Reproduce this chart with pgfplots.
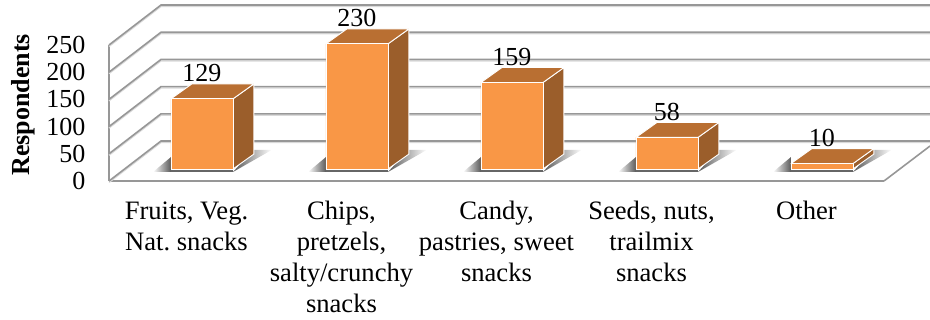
\documentclass[border=0pt]{standalone}
\usepackage{fontspec}
\setmainfont{Liberation Serif}
\usepackage{pgfplots}
\pgfplotsset{compat=1.18}
\definecolor{front}{HTML}{F99746}
\definecolor{topf}{HTML}{B96F32}
\definecolor{sidef}{HTML}{9B5E2B}
\definecolor{gridc}{HTML}{979797}
\begin{document}
\begin{tikzpicture}[x=1pt,y=1pt]
\useasboundingbox (0,0) rectangle (930,320);
\begin{axis}[
  at={(109pt,139pt)}, anchor=south west,
  scale only axis, width=775pt, height=136pt,
  xmin=-0.5, xmax=4.5, ymin=0, ymax=250,
  clip=false,
  axis x line*=bottom, axis y line*=left,
  axis line style={draw=gridc, line width=1.6pt, -},
  tick style={draw=none},
  xtick={0,1,2,3,4},
  xticklabels={{Fruits, Veg.\\Nat.\ snacks},{Chips,\\pretzels,\\salty/crunchy\\snacks},{Candy,\\pastries, sweet\\snacks},{Seeds, nuts,\\trailmix\\snacks},{Other}},
  x tick label style={font=\fontsize{26.6}{31}\selectfont, align=center, anchor=north, yshift=-17pt},
  ytick={0,50,100,150,200,250},
  y tick label style={font=\fontsize{26}{30}\selectfont, anchor=east, xshift=-20pt},
  /pgf/number format/assume math mode=true,
  ylabel={\bfseries Respondents},
  ylabel style={font=\fontsize{26}{30}\selectfont, at={(axis description cs:-0.111,0.56)}, anchor=center, rotate=0},
  bshift/.style={xshift=15.5pt, yshift=12pt, mark=none},
  shadowL/.style={bshift, draw=none, left color=white, right color=black!65},
  shadowR/.style={bshift, draw=none, left color=black!65, right color=white},
  strip/.style={bshift, draw=none, fill=black!60},
  topface/.style={bshift, draw=white, line width=0.9pt, fill=topf, line join=round},
  sideface/.style={bshift, draw=white, line width=0.9pt, fill=sidef, line join=round},
]
% walls and floor
\pgfplotsinvokeforeach{0,50,100,150,200,250}{
  \addplot[gray!30, line width=1.4pt, mark=none, forget plot, yshift=-1.4pt] coordinates {(-0.5,#1) (-0.1645,#1+73.5) (4.797,#1+73.5)};
  \addplot[gridc, line width=1.6pt, mark=none, forget plot] coordinates {(-0.5,#1) (-0.1645,#1+73.5) (4.797,#1+73.5)};
}
\addplot[gridc, line width=1.6pt, mark=none] coordinates {(4.5,0) (4.797,64.3)};
% shadows
\addplot[shadowL] coordinates {(-0.316,-5.5) (-0.2,-5.5) (-0.2,22)} --cycle;
\addplot[shadowL] coordinates {(0.684,-5.5) (0.8,-5.5) (0.8,22)} --cycle;
\addplot[shadowL] coordinates {(1.684,-5.5) (1.8,-5.5) (1.8,22)} --cycle;
\addplot[shadowL] coordinates {(2.684,-5.5) (2.8,-5.5) (2.8,22)} --cycle;
\addplot[shadowL] coordinates {(3.684,-5.5) (3.8,-5.5) (3.8,22)} --cycle;
\addplot[shadowR] coordinates {(0.2,-5.5) (0.33,35) (0.45,35) (0.2,-5.5)} --cycle;
\addplot[shadowR] coordinates {(1.2,-5.5) (1.33,35) (1.45,35) (1.2,-5.5)} --cycle;
\addplot[shadowR] coordinates {(2.2,-5.5) (2.33,35) (2.45,35) (2.2,-5.5)} --cycle;
\addplot[shadowR] coordinates {(3.2,-5.5) (3.33,35) (3.45,35) (3.2,-5.5)} --cycle;
\addplot[shadowR] coordinates {(4.2,-5.5) (4.33,35) (4.45,35) (4.2,-5.5)} --cycle;
\addplot[strip] coordinates {(-0.2,-5.5) (0.2,-5.5) (0.2,0) (-0.2,0)} --cycle;
\addplot[strip] coordinates {(0.8,-5.5) (1.2,-5.5) (1.2,0) (0.8,0)} --cycle;
\addplot[strip] coordinates {(1.8,-5.5) (2.2,-5.5) (2.2,0) (1.8,0)} --cycle;
\addplot[strip] coordinates {(2.8,-5.5) (3.2,-5.5) (3.2,0) (2.8,0)} --cycle;
\addplot[strip] coordinates {(3.8,-5.5) (4.2,-5.5) (4.2,0) (3.8,0)} --cycle;
% side faces
\addplot[sideface] coordinates {(0.2,0) (0.335,27.5) (0.335,156.5) (0.2,129)} --cycle;
\addplot[sideface] coordinates {(1.2,0) (1.335,27.5) (1.335,257.5) (1.2,230)} --cycle;
\addplot[sideface] coordinates {(2.2,0) (2.335,27.5) (2.335,186.5) (2.2,159)} --cycle;
\addplot[sideface] coordinates {(3.2,0) (3.335,27.5) (3.335,85.5) (3.2,58)} --cycle;
\addplot[sideface] coordinates {(4.2,0) (4.335,27.5) (4.335,37.5) (4.2,10)} --cycle;
% top faces
\addplot[topface] coordinates {(-0.2,129) (0.2,129) (0.335,156.5) (-0.065,156.5)} --cycle;
\addplot[topface] coordinates {(0.8,230) (1.2,230) (1.335,257.5) (0.935,257.5)} --cycle;
\addplot[topface] coordinates {(1.8,159) (2.2,159) (2.335,186.5) (1.935,186.5)} --cycle;
\addplot[topface] coordinates {(2.8,58) (3.2,58) (3.335,85.5) (2.935,85.5)} --cycle;
\addplot[topface] coordinates {(3.8,10) (4.2,10) (4.335,37.5) (3.935,37.5)} --cycle;
% front faces
\addplot[ybar, bar width=62pt, bshift, fill=front, draw=white, line width=0.9pt] coordinates {(0,129) (1,230) (2,159) (3,58) (4,10)};
% value labels
\addplot[draw=none, mark=none, nodes near coords, point meta=explicit,
  every node near coord/.style={anchor=base, inner sep=0pt, yshift=0pt, font=\fontsize{26}{30}\selectfont, text=black}]
  table[x=x, y=y, meta=v] {
x y v
0.1 183 129
1.1 284 230
2.1 213 159
3.1 112 58
4.1 64 10
};
\end{axis}
\end{tikzpicture}
\end{document}
